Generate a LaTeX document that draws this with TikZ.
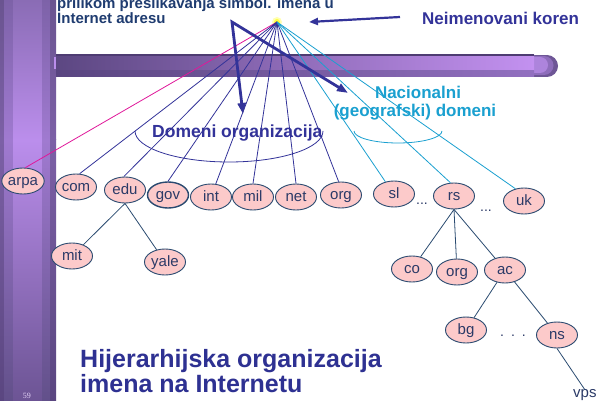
\documentclass[tikz,border=0pt]{standalone}
\usepackage{fontspec}
\setmainfont{Liberation Sans}
\newfontfamily\pagenumfont{Liberation Serif}
\usetikzlibrary{shapes.geometric,arrows.meta}

\definecolor{treeline}{HTML}{2A4A70}
\definecolor{orgblue}{HTML}{333399}
\definecolor{natcyan}{HTML}{1AA0D0}
\definecolor{arpamag}{HTML}{E0189A}
\definecolor{nodefill}{HTML}{FCCACA}
\definecolor{nodetext}{HTML}{2B3A67}
\definecolor{headblue}{HTML}{1F3C70}
\definecolor{titleblue}{HTML}{2E3192}
\definecolor{rootyellow}{HTML}{FFFF40}
% side bar tones
\definecolor{sbEdgeT}{HTML}{6A5490}\definecolor{sbEdgeM}{HTML}{7C60A6}\definecolor{sbEdgeB}{HTML}{5A4680}
\definecolor{sbMidT}{HTML}{7D62A8}\definecolor{sbMidM}{HTML}{A07AD0}\definecolor{sbMidB}{HTML}{62508A}
\definecolor{sbCenT}{HTML}{8A6CB5}\definecolor{sbCenM}{HTML}{BB8EEC}\definecolor{sbCenB}{HTML}{6C5494}
% top bar tones
\definecolor{tbLeft}{HTML}{5C4782}\definecolor{tbRight}{HTML}{C391F0}
\definecolor{tbLowL}{HTML}{594580}\definecolor{tbLowR}{HTML}{9270C0}
\definecolor{tbEdge}{HTML}{4E3C72}
\definecolor{capA}{HTML}{6E5696}\definecolor{capB}{HTML}{8E6DBB}\definecolor{capC}{HTML}{AD84DC}

\tikzset{
  dom/.style={ellipse, draw=treeline, fill=nodefill, line width=0.9pt,
    minimum width=41pt, minimum height=26pt, inner sep=0pt,
    text height=11pt, text depth=3pt,
    text=nodetext, font=\fontsize{15}{15}\selectfont},
  orgline/.style={draw=orgblue, line width=0.8pt},
  natline/.style={draw=natcyan, line width=0.8pt},
  arpaline/.style={draw=arpamag, line width=0.8pt},
  treeedge/.style={draw=treeline, line width=0.8pt},
  bigtip/.tip={Triangle[length=11pt,width=8pt]},
  bigarrow/.style={draw=orgblue, line width=2.8pt, line join=miter},
  dots/.style={text=nodetext, inner sep=0pt, font=\fontsize{14}{14}\selectfont},
}

\begin{document}
\begin{tikzpicture}[x=1pt,y=-1pt]
\useasboundingbox (0,0) rectangle (597,401);
\fill[white] (0,0) rectangle (597,401);

% ---- vertical side bar ----
\foreach \xa/\xb/\tone in {0/4/Edge,4/13/Mid,13/42/Cen,42/50/Mid,50/56/Edge}{
  \shade[top color=sb\tone T, bottom color=sb\tone M] (\xa,0) rectangle (\xb,140);
  \shade[top color=sb\tone M, bottom color=sb\tone B] (\xa,140) rectangle (\xb,401);
}

% ---- horizontal bar with rounded end ----
\fill[capA] (530,55) rectangle (547,77);
\fill[capA] (547,66) circle[radius=11pt];
\fill[capB] (528,56) rectangle (544,75);
\fill[capB] (544,65.5) circle[radius=9.5pt];
\fill[capC] (526,57) rectangle (540,73);
\fill[capC] (540,65) circle[radius=8pt];
\shade[left color=tbLeft, right color=tbRight] (56,55) rectangle (534,71);
\shade[left color=tbLowL, right color=tbLowR] (56,71) rectangle (534,77);
\fill[tbEdge] (56,54.5) rectangle (534,56);
\fill[sbCenM] (54,57) rectangle (56,69);

% ---- headings ----
\node[anchor=base west, inner sep=0pt, text=headblue, font=\bfseries\fontsize{15}{15}\selectfont]
  (head1) at (57,9) {prilikom preslikavanja simbol. imena u};
\node[anchor=base west, inner sep=0pt, text=headblue, font=\bfseries\fontsize{15}{15}\selectfont]
  (head2) at (57,24) {Internet adresu};
\node[anchor=base west, inner sep=0pt, text=orgblue, font=\bfseries\fontsize{17}{17}\selectfont]
  (rootlabel) at (422,25) {Neimenovani koren};
\node[anchor=base west, inner sep=0pt, text=orgblue, font=\bfseries\fontsize{17.5}{17.5}\selectfont]
  (orglabel) at (152,138) {Domeni organizacija};
\node[anchor=base, inner sep=0pt, text=natcyan, font=\bfseries\fontsize{17}{17}\selectfont]
  (natlabel1) at (418,99) {Nacionalni};
\node[anchor=base, inner sep=0pt, text=natcyan, font=\bfseries\fontsize{17}{17}\selectfont]
  (natlabel2) at (415,117) {(geografski) domeni};
\node[anchor=base west, inner sep=0pt, text=titleblue, font=\bfseries\fontsize{25}{25}\selectfont]
  (title1) at (80,367) {Hijerarhijska organizacija};
\node[anchor=base west, inner sep=0pt, text=titleblue, font=\bfseries\fontsize{25}{25}\selectfont]
  (title2) at (80,392) {imena na Internetu};
\node[anchor=base, inner sep=0pt, text=sbCenM!40!white, font=\pagenumfont\fontsize{8}{8}\selectfont]
  (pagenum) at (27,398) {59};

% ---- group brackets ----
\draw[orgblue, line width=0.8pt] (135,131) arc[start angle=180, end angle=0, x radius=94, y radius=31];
\draw[natcyan, line width=0.8pt] (354,131) arc[start angle=180, end angle=0, x radius=44, y radius=12];

% ---- domain nodes ----
\node[dom] (arpa) at (23,181) {arpa};
\node[dom] (com)  at (76,187) {com};
\node[dom] (edu)  at (125,190) {edu};
\node[dom, line width=1.4pt] (gov) at (168,195) {gov};
\node[dom] (int)  at (211,197) {int};
\node[dom] (mil)  at (253,197) {mil};
\node[dom] (net)  at (296,197) {net};
\node[dom] (org)  at (341,195) {org};
\node[dom] (sl)   at (394,194) {sl};
\node[dom] (rs)   at (454,196) {rs};
\node[dom] (uk)   at (524,201) {uk};
\node[dom] (mit)  at (72,256) {mit};
\node[dom] (yale) at (165,262) {yale};
\node[dom] (co)   at (412,269) {co};
\node[dom] (rsorg) at (457,272) {org};
\node[dom] (ac)   at (505,270) {ac};
\node[dom] (bg)   at (466,330) {bg};
\node[dom] (ns)   at (557,335) {ns};
\node[anchor=base west, inner sep=0pt, text=nodetext, font=\fontsize{15}{15}\selectfont]
  (vps) at (573,397) {vps};

\node[dots, anchor=base] (dotsA) at (422,204) {...};
\node[dots, anchor=base] (dotsB) at (486,211) {...};
\node[dots, anchor=base] (dotsC) at (513,336) {.\,\,\,.\,\,\,.};

% ---- unnamed root ----
\fill[rootyellow!40!white] (277,22) circle[radius=5pt];
\node[circle, fill=rootyellow, inner sep=0pt, minimum size=6pt] (root) at (277,22) {};

% ---- root edges ----
\draw[arpaline] (root.center) -- (arpa.80);
\draw[orgline] (root.center) -- (com.75);
\draw[orgline] (root.center) -- (edu.95);
\draw[orgline] (root.center) -- (gov.north);
\draw[orgline] (root.center) -- (int.70);
\draw[orgline] (root.center) -- (mil.north);
\draw[orgline] (root.center) -- (net.north);
\draw[orgline] (root.center) -- (org.100);
\draw[natline] (root.center) -- (sl.125);
\draw[natline] (root.center) -- (rs.105);
\draw[natline] (root.center) -- (uk.125);

% ---- subtree edges ----
\draw[treeedge] (edu.south) -- (mit);
\draw[treeedge] (edu.south) -- (yale);
\draw[treeedge] (rs.south) -- (co);
\draw[treeedge] (rs.south) -- (rsorg);
\draw[treeedge] (rs.south) -- (ac);
\draw[treeedge] (ac) -- (bg);
\draw[treeedge] (ac) -- (ns);
\draw[treeedge] (ns.south) -- ([yshift=-1pt]vps.north);

% ---- pointer arrows ----
\coordinate (vapex) at (232,22);
\coordinate (vtipA) at (243,114);
\coordinate (vtipB) at (348,93);
\draw[bigarrow, bigtip-bigtip] (vtipA) -- (vapex) -- (vtipB);
\coordinate (rlstart) at (400,17);
\coordinate (rltip) at (309,22);
\draw[draw=orgblue, line width=2.2pt, -{Triangle[length=9pt,width=7pt]}] (rlstart) -- (rltip);
\end{tikzpicture}
\end{document}
